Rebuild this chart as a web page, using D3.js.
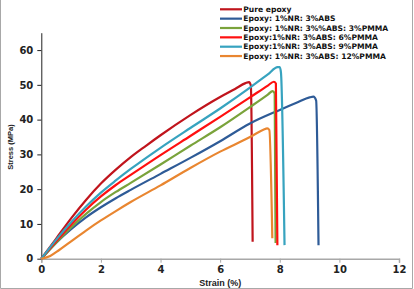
<!DOCTYPE html>
<html>
<head>
<meta charset="utf-8">
<script src="https://cdn.jsdelivr.net/npm/d3@7"></script>
<style>
  body { margin: 0; background: #fff; }
  svg { display: block; }
  .tick text { font-family: "DejaVu Sans", sans-serif; font-weight: bold; }
</style>
</head>
<body>
<div id="chart"></div>
<script>
const width = 414, height = 289;

// series names (legend order) and their stress-strain points [strain %, stress MPa]
const seriesNames = [
  "Pure epoxy",
  "Epoxy: 1%NR: 3%ABS",
  "Epoxy: 1%NR: 3%%ABS: 3%PMMA",
  "Epoxy:1%NR: 3%ABS: 6%PMMA",
  "Epoxy:1%NR: 3%ABS: 9%PMMA",
  "Epoxy: 1%NR: 3%ABS: 12%PMMA"
];
const seriesColors = ["#C0141C", "#2E5B97", "#7AA33B", "#FF1010", "#37A3BF", "#E98630"];

const pureEpoxy = [[0,0],[0.5,5.8],[1,11.6],[1.5,16.9],[2,21.6],[2.5,25.6],[3,29.2],[3.5,32.4],[4,35.5],[5,41.3],[6,46.5],[6.5,48.8],[6.85,50.5],[6.97,50.8],[7.03,49.8],[7.09,4.9]];
const nr3abs = [[0,0],[0.5,4.6],[1,8.5],[1.5,11.9],[2,14.8],[2.5,17.4],[3,19.8],[4,24.4],[5,29],[6,33.8],[7,38.9],[8,42.8],[8.6,45],[9.0,46.4],[9.13,46.6],[9.22,45.5],[9.3,3.9]];
const pmma3 = [[0,0],[0.5,4.6],[1,9],[1.5,12.9],[2,16.3],[2.5,19.2],[3,21.8],[4,27.1],[5,32.5],[6,37.8],[7,43.6],[7.6,47.2],[7.76,48.2],[7.83,47.5],[7.86,4.5]];
const pmma6 = [[0,0],[0.5,5],[1,9.8],[1.5,14.1],[2,17.9],[2.5,21.2],[3,24.1],[4,29.8],[5,35.3],[6,40.8],[7,46.4],[7.6,49.8],[7.8,50.9],[7.87,50.4],[7.92,3.9]];
const pmma9 = [[0,0],[0.5,5.5],[1,10.5],[1.5,15],[2,19],[2.5,22.5],[3,25.8],[4,31.9],[5,37.6],[6,43.2],[7,49.2],[7.6,53],[7.93,55.1],[8.0,55.1],[8.04,53.5],[8.16,3.9]];
const pmma12 = [[0,0],[0.3,0.8],[0.6,2.5],[1,5],[1.5,8.1],[2,11],[2.5,13.7],[3,16.3],[4,21.1],[5,26.1],[6,30.8],[7,35],[7.45,37.1],[7.58,37.5],[7.65,37],[7.75,5.9]];
const seriesData = [pureEpoxy, nr3abs, pmma3, pmma6, pmma9, pmma12];

const xTicks = [0, 2, 4, 6, 8, 10, 12];
const yTicks = [0, 10, 20, 30, 40, 50, 60];

const margin = {top: 32.7, right: 15, bottom: 30.3, left: 41.3};

const x = d3.scaleLinear().domain([0, 12]).range([margin.left, width - margin.right]);
const y = d3.scaleLinear().domain([0, 65]).range([height - margin.bottom, margin.top]);

const svg = d3.select("#chart").append("svg")
  .attr("width", width)
  .attr("height", height);

// frame
svg.append("path")
  .attr("d", `M0.5,0 V${height - 0.5} H${width - 1.5} V0`)
  .attr("fill", "none")
  .attr("stroke", "#a8a8a8")
  .attr("stroke-width", 1);

// x axis (grey)
const gx = svg.append("g")
  .attr("transform", "translate(0," + y(0) + ")")
  .call(d3.axisBottom(x).tickValues(xTicks).tickSize(4).tickPadding(3));
gx.select(".domain").attr("stroke", "#a8a8a8").attr("stroke-width", 1.5);
gx.selectAll(".tick line").attr("stroke", "#a8a8a8");
gx.selectAll(".tick text").attr("font-size", 10).attr("fill", "#222");

// y axis (black)
const gy = svg.append("g")
  .attr("transform", "translate(" + x(0) + ",0)")
  .call(d3.axisLeft(y).tickValues(yTicks).tickSize(4).tickSizeOuter(0).tickPadding(4));
gy.select(".domain").attr("stroke", "#222");
gy.selectAll(".tick line").attr("stroke", "#222");
gy.selectAll(".tick text").attr("font-size", 10).attr("fill", "#222");

// curves
const line = d3.line()
  .x(d => x(d[0]))
  .y(d => y(d[1]))
  .curve(d3.curveMonotoneX);

svg.append("g").selectAll("path")
  .data(seriesData)
  .join("path")
  .attr("fill", "none")
  .attr("stroke", (d, i) => seriesColors[i])
  .attr("stroke-width", 2.2)
  .attr("stroke-linejoin", "round")
  .attr("d", line);

// axis titles
svg.append("text")
  .attr("x", (x(0) + x(12)) / 2)
  .attr("y", 285.5)
  .attr("text-anchor", "middle")
  .attr("font-family", "Liberation Sans, sans-serif")
  .attr("font-weight", "bold")
  .attr("font-size", 9)
  .attr("fill", "#222")
  .text("Strain (%)");

svg.append("text")
  .attr("transform", "translate(13,147) rotate(-90)")
  .attr("text-anchor", "middle")
  .attr("font-family", "Liberation Sans, sans-serif")
  .attr("font-weight", "bold")
  .attr("font-size", 7.5)
  .attr("fill", "#222")
  .text("Stress (MPa)");

// legend
const legend = svg.append("g").attr("transform", "translate(220,9.3)");
const rows = legend.selectAll("g")
  .data(seriesNames)
  .join("g")
  .attr("transform", (d, i) => "translate(0," + i * 9.35 + ")");
rows.append("line")
  .attr("x1", 0).attr("x2", 22)
  .attr("stroke", (d, i) => seriesColors[i])
  .attr("stroke-width", 2.2);
rows.append("text")
  .attr("x", 23.3)
  .attr("dy", "0.35em")
  .attr("font-family", "DejaVu Sans, sans-serif")
  .attr("font-weight", "bold")
  .attr("font-size", 7.6)
  .attr("fill", "#111")
  .text(d => d);
</script>
</body>
</html>
